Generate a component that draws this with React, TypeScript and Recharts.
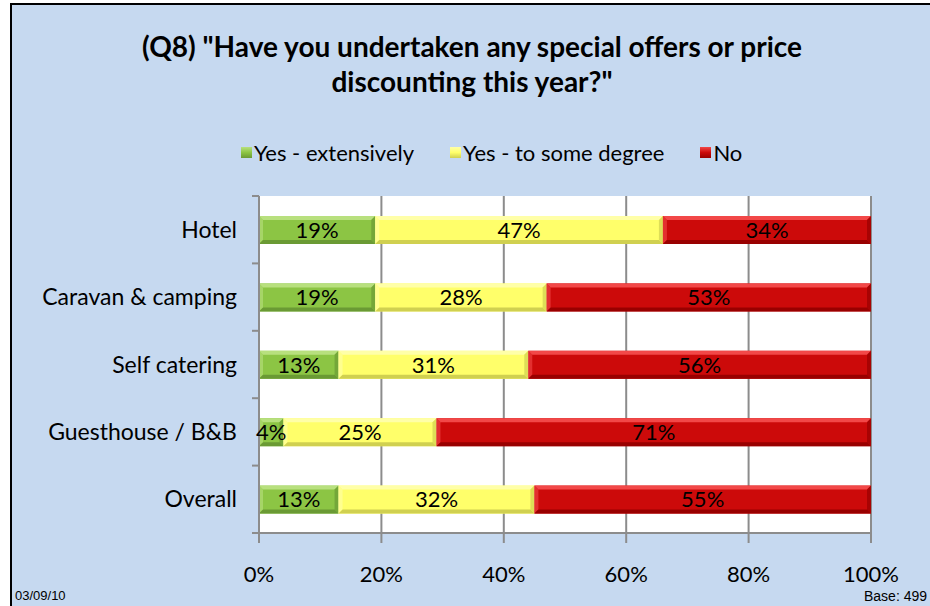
import { BarChart, Bar, XAxis, YAxis, CartesianGrid, Legend, LabelList } from 'recharts';

const categories = ['Hotel', 'Caravan & camping', 'Self catering', 'Guesthouse / B&B', 'Overall'];
const extensively = [19, 19, 13, 4, 13];
const someDegree = [47, 28, 31, 25, 32];
const noValues = [34, 53, 56, 71, 55];
const xTicks = [0, 20, 40, 60, 80, 100];
const seriesOrder = ['ext', 'some', 'no'];

const data = categories.map((name, i) => ({
  name,
  ext: extensively[i],
  some: someDegree[i],
  no: noValues[i],
}));

const FONT = 'Lato, "Noto Sans", sans-serif';
const AXIS_X = 259;
const GRID = '#8c8c8c';

const bevel = {
  ext: { base: '#8cc544', light: '#b8e07e', dark: '#6a9a34' },
  some: { base: '#ffff6a', light: '#ffffa8', dark: '#d0d050' },
  no: { base: '#cc0a0a', light: '#f24848', dark: '#990000' },
};

function bevelShape(c: { base: string; light: string; dark: string }) {
  return (props: any) => {
    const { x, y, width, height } = props;
    if (!width || width <= 0) return <g />;
    const e = Math.min(4, width / 2);
    return (
      <g>
        <rect x={x} y={y} width={width} height={height} fill={c.base} />
        <polygon points={`${x},${y} ${x + width},${y} ${x + width - e},${y + e} ${x + e},${y + e}`} fill={c.light} />
        <polygon points={`${x},${y} ${x + e},${y + e} ${x + e},${y + height - e} ${x},${y + height}`} fill={c.light} opacity={0.6} />
        <polygon points={`${x},${y + height} ${x + e},${y + height - e} ${x + width - e},${y + height - e} ${x + width},${y + height}`} fill={c.dark} />
        <polygon points={`${x + width},${y} ${x + width - e},${y + e} ${x + width - e},${y + height - e} ${x + width},${y + height}`} fill={c.dark} opacity={0.7} />
      </g>
    );
  };
}

function CategoryTick(props: any) {
  const { x, y, payload, index, visibleTicksCount } = props;
  const half = payload?.offset ?? 0;
  const last = index === (visibleTicksCount ?? categories.length) - 1;
  return (
    <g>
      <line x1={AXIS_X - 7} x2={AXIS_X} y1={y - half} y2={y - half} stroke={GRID} strokeWidth={2} />
      {last && <line x1={AXIS_X - 7} x2={AXIS_X} y1={y + half} y2={y + half} stroke={GRID} strokeWidth={2} />}
      <text x={x} y={y} dy="0.35em" textAnchor="end" fontSize={23} fontFamily={FONT} fill="#000">
        {payload.value}
      </text>
    </g>
  );
}

function LegendContent(props: any) {
  const items = [...(props.payload || [])].sort(
    (a: any, b: any) => seriesOrder.indexOf(a.dataKey) - seriesOrder.indexOf(b.dataKey)
  );
  return (
    <div style={{ display: 'flex', paddingLeft: 241, gap: 36, fontFamily: FONT, fontSize: 22 }}>
      {items.map((it: any) => {
        const c = bevel[it.dataKey as keyof typeof bevel];
        return (
          <div key={it.dataKey} style={{ display: 'flex', alignItems: 'center' }}>
            <span
              style={{
                width: 11,
                height: 11,
                marginRight: 2,
                background: `linear-gradient(${c.light}, ${c.base} 50%, ${c.dark})`,
              }}
            />
            <span style={{ color: '#000' }}>{it.value}</span>
          </div>
        );
      })}
    </div>
  );
}

export default function App() {
  return (
    <div style={{ position: 'absolute', left: 0, top: 0, width: 930, height: 606, overflow: 'hidden', background: '#fff' }}>
      <div
        style={{
          position: 'absolute',
          left: 10,
          top: 3,
          width: 940,
          height: 620,
          background: '#c6d9f0',
          borderTop: '2px solid #000',
          borderLeft: '2px solid #000',
        }}
      />
      <div
        style={{
          position: 'absolute',
          left: 0,
          top: 29,
          width: 944,
          textAlign: 'center',
          fontFamily: FONT,
          fontWeight: 700,
          fontSize: 28,
          lineHeight: '35px',
          color: '#000',
        }}
      >
        (Q8) "Have you undertaken any special offers or price
        <br />
        discounting this year?"
      </div>
      <div style={{ position: 'absolute', left: 0, top: 0 }}>
        <BarChart
          width={930}
          height={606}
          data={data}
          layout="vertical"
          margin={{ top: 196, right: 59, bottom: 0, left: 0 }}
          barSize={28}
        >
          <CartesianGrid horizontal={false} stroke={GRID} strokeWidth={2} fill="#fff" />
          <XAxis
            type="number"
            domain={[0, 100]}
            ticks={xTicks}
            interval={0}
            height={73}
            tickFormatter={(v) => `${v}%`}
            axisLine={{ stroke: GRID, strokeWidth: 2 }}
            tickLine={{ stroke: GRID, strokeWidth: 2 }}
            tickSize={10}
            tickMargin={23}
            tick={{ fontSize: 22, fontFamily: FONT, fill: '#000' }}
          />
          <YAxis
            type="category"
            dataKey="name"
            width={AXIS_X}
            axisLine={{ stroke: GRID, strokeWidth: 2 }}
            tickLine={false}
            tickSize={6}
            tickMargin={16}
            interval={0}
            tick={<CategoryTick />}
          />
          <Legend
            verticalAlign="middle"
            layout="horizontal"
            wrapperStyle={{ top: 139, left: 0, width: 930 }}
            content={<LegendContent />}
          />
          <Bar dataKey="ext" name="Yes - extensively" stackId="a" fill={bevel.ext.base} shape={bevelShape(bevel.ext)} isAnimationActive={false}>
            <LabelList dataKey="ext" position="center" formatter={(v: any) => `${v}%`} fill="#000" fontSize={22} fontFamily={FONT} />
          </Bar>
          <Bar dataKey="some" name="Yes - to some degree" stackId="a" fill={bevel.some.base} shape={bevelShape(bevel.some)} isAnimationActive={false}>
            <LabelList dataKey="some" position="center" formatter={(v: any) => `${v}%`} fill="#000" fontSize={22} fontFamily={FONT} />
          </Bar>
          <Bar dataKey="no" name="No" stackId="a" fill={bevel.no.base} shape={bevelShape(bevel.no)} isAnimationActive={false}>
            <LabelList dataKey="no" position="center" formatter={(v: any) => `${v}%`} fill="#000" fontSize={22} fontFamily={FONT} />
          </Bar>
        </BarChart>
      </div>
      <div style={{ position: 'absolute', left: 15, top: 588, fontFamily: '"Liberation Sans", Arial, sans-serif', fontSize: 13, color: '#000' }}>
        03/09/10
      </div>
      <div style={{ position: 'absolute', left: 864, top: 588, fontFamily: '"Liberation Sans", Arial, sans-serif', fontSize: 14, color: '#000', whiteSpace: 'nowrap' }}>
        Base: 499
      </div>
    </div>
  );
}
